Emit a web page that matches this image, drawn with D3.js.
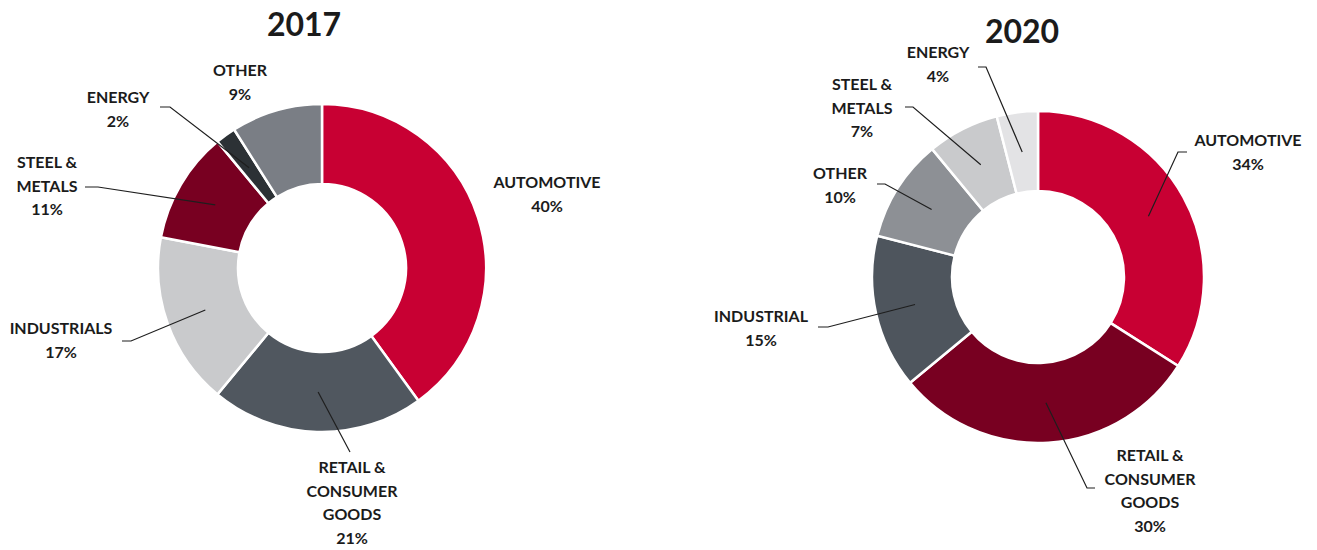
<!DOCTYPE html>
<html>
<head>
<meta charset="utf-8">
<script src="https://cdn.jsdelivr.net/npm/d3@7"></script>
<style>
  html, body { margin: 0; padding: 0; background: #fff; }
  svg { display: block; }
  text { font-family: Lato, "Liberation Sans", sans-serif; font-weight: 700; fill: #1b1b1b; }
</style>
</head>
<body>
<svg id="chart" width="1317" height="550"></svg>
<script>
// ---------- DATA ----------
const titles = ["2017", "2020"];

const categories2017 = ["AUTOMOTIVE", "RETAIL & CONSUMER GOODS", "INDUSTRIALS", "STEEL & METALS", "ENERGY", "OTHER"];
const values2017 = [40, 21, 17, 11, 2, 9];

const categories2020 = ["AUTOMOTIVE", "RETAIL & CONSUMER GOODS", "INDUSTRIAL", "OTHER", "STEEL & METALS", "ENERGY"];
const values2020 = [34, 30, 15, 10, 7, 4];

// label text lines (line-broken as in the reference)
const labelLines2017 = [["AUTOMOTIVE"], ["RETAIL &", "CONSUMER", "GOODS"], ["INDUSTRIALS"], ["STEEL &", "METALS"], ["ENERGY"], ["OTHER"]];
const labelLines2020 = [["AUTOMOTIVE"], ["RETAIL &", "CONSUMER", "GOODS"], ["INDUSTRIAL"], ["OTHER"], ["STEEL &", "METALS"], ["ENERGY"]];

// ---------- STYLE / LAYOUT ----------
const colors2017 = ["#c80033", "#50575f", "#c9cacc", "#780021", "#2c3135", "#7a7e85"];
const colors2020 = ["#c80033", "#780021", "#4e555d", "#8d9095", "#c9cacc", "#e3e3e5"];

const charts = [
  {
    title: titles[0], titleX: 304, titleY: 36,
    cx: 322, cy: 268, rOuter: 164, rInner: 84,
    cats: categories2017, vals: values2017, lines: labelLines2017, colors: colors2017,
    labels: [
      { x: 547, y: 188, leader: null },
      { x: 352, y: 473, leader: { x: 350, y: 452, tick: 0 } },
      { x: 61, y: 334, leader: { x: 122, y: 341, tick: 9 } },
      { x: 47, y: 168, leader: { x: 85, y: 187, tick: 13 } },
      { x: 118, y: 103, leader: { x: 160, y: 107, tick: 10 } },
      { x: 240, y: 76, leader: null }
    ]
  },
  {
    title: titles[1], titleX: 1022, titleY: 43,
    cx: 1038, cy: 277, rOuter: 166, rInner: 86,
    cats: categories2020, vals: values2020, lines: labelLines2020, colors: colors2020,
    labels: [
      { x: 1248, y: 146, leader: { x: 1187, y: 152, tick: -9 } },
      { x: 1150, y: 461, leader: { x: 1095, y: 488, tick: -8 } },
      { x: 761, y: 322, leader: { x: 818, y: 327, tick: 10 } },
      { x: 840, y: 179, leader: { x: 877, y: 184, tick: 8 } },
      { x: 862, y: 90, leader: { x: 905, y: 107, tick: 8 } },
      { x: 938, y: 58, leader: { x: 978, y: 67, tick: 8 } }
    ]
  }
];

const svg = d3.select("#chart");
const lineH = 23.5;

charts.forEach(c => {
  const g = svg.append("g");

  g.append("text")
    .attr("x", c.titleX).attr("y", c.titleY)
    .attr("text-anchor", "middle")
    .style("font-size", "32px")
    .text(c.title);

  const data = c.cats.map((name, i) => ({ name, value: c.vals[i], i }));
  const pie = d3.pie().value(d => d.value).sort(null);
  const arcs = pie(data);
  const arc = d3.arc().innerRadius(c.rInner).outerRadius(c.rOuter);
  const midR = (c.rInner + c.rOuter) / 2;
  const midArc = d3.arc().innerRadius(midR - 2).outerRadius(midR + 2);

  const pg = g.append("g").attr("transform", `translate(${c.cx},${c.cy})`);
  pg.selectAll("path").data(arcs).join("path")
    .attr("d", arc)
    .attr("fill", d => c.colors[d.data.i])
    .attr("stroke", "#fff")
    .attr("stroke-width", 2.5)
    .attr("stroke-linejoin", "miter");

  // leader lines
  arcs.forEach(a => {
    const L = c.labels[a.data.i];
    if (!L.leader) return;
    const [mx, my] = midArc.centroid(a);
    const px = c.cx + mx, py = c.cy + my;
    const lx = L.leader.x, ly = L.leader.y, t = L.leader.tick;
    const pts = t ? [[lx, ly], [lx + t, ly], [px, py]] : [[lx, ly], [px, py]];
    g.append("path")
      .attr("d", d3.line()(pts))
      .attr("fill", "none")
      .attr("stroke", "#1e1e1e")
      .attr("stroke-width", 1.2);
  });

  // labels
  arcs.forEach(a => {
    const L = c.labels[a.data.i];
    const lines = c.lines[a.data.i].concat([a.data.value + "%"]);
    const t = g.append("text")
      .attr("text-anchor", "middle")
      .style("font-size", "16px");
    lines.forEach((ln, k) => {
      t.append("tspan").attr("x", L.x).attr("y", L.y + k * lineH).text(ln);
    });
  });
});
</script>
</body>
</html>
